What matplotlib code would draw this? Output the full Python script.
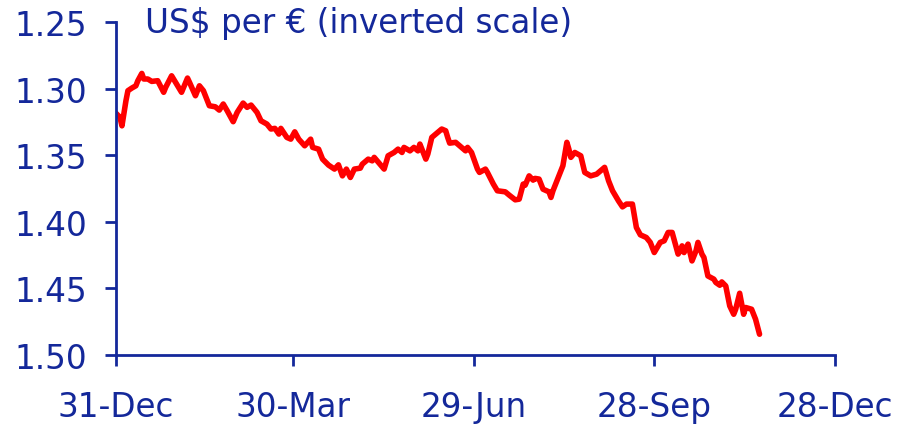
import matplotlib
matplotlib.use("Agg")
import matplotlib.pyplot as plt
import matplotlib.dates as mdates
import pandas as pd

# Data: days since 31-Dec-2006, US$ per euro
day_offsets = [0, 2, 3, 5, 6, 8, 10, 11, 13, 14, 16, 18, 21, 24, 25, 28, 30, 33, 36, 37,
               40, 42, 44, 47, 50, 52, 54, 56, 59, 61, 64, 66, 68, 71, 73, 76, 78, 80, 82, 83,
               86, 88, 90, 92, 95, 98, 99, 102, 104, 107, 110, 112, 114, 116, 118, 120, 123, 124, 127, 129,
               130, 135, 137, 140, 142, 144, 145, 148, 150, 152, 153, 156, 157, 159, 161, 164, 166, 167, 168, 171,
               173, 176, 177, 179, 182, 183, 186, 187, 190, 192, 196, 198, 201, 203, 205, 206, 208, 210, 211, 213,
               215, 218, 219, 220, 223, 225, 227, 228, 229, 231, 234, 236, 239, 242, 244, 246, 248, 250, 253, 255,
               257, 260, 262, 264, 267, 269, 271, 274, 276, 278, 280, 283, 284, 285, 286, 288, 290, 292, 293, 295,
               296, 298, 301, 302, 304, 305, 307, 309, 311, 312, 314, 316, 317, 320, 322, 324]
usd_per_eur = [1.3184, 1.3214, 1.3278, 1.3090, 1.3014, 1.2994, 1.2977, 1.2939, 1.2884, 1.2926,
               1.2926, 1.2944, 1.2939, 1.3026, 1.2989, 1.2902, 1.2951, 1.3026, 1.2919, 1.2951,
               1.3052, 1.2977, 1.3014, 1.3127, 1.3135, 1.3160, 1.3114, 1.3165, 1.3247, 1.3177,
               1.3107, 1.3139, 1.3122, 1.3177, 1.3240, 1.3265, 1.3302, 1.3297, 1.3340, 1.3297,
               1.3365, 1.3378, 1.3323, 1.3378, 1.3428, 1.3378, 1.3440, 1.3453, 1.3528, 1.3573,
               1.3603, 1.3571, 1.3654, 1.3603, 1.3666, 1.3603, 1.3596, 1.3566, 1.3528, 1.3541,
               1.3515, 1.3603, 1.3503, 1.3478, 1.3453, 1.3478, 1.3440, 1.3466, 1.3440, 1.3466,
               1.3415, 1.3528, 1.3490, 1.3365, 1.3340, 1.3302, 1.3315, 1.3365, 1.3408, 1.3402,
               1.3428, 1.3466, 1.3440, 1.3478, 1.3603, 1.3628, 1.3603, 1.3628, 1.3716, 1.3766,
               1.3774, 1.3799, 1.3834, 1.3829, 1.3716, 1.3724, 1.3654, 1.3686, 1.3673, 1.3678,
               1.3754, 1.3774, 1.3816, 1.3766, 1.3654, 1.3578, 1.3402, 1.3453, 1.3515, 1.3478,
               1.3503, 1.3628, 1.3654, 1.3641, 1.3616, 1.3590, 1.3691, 1.3766, 1.3842, 1.3887,
               1.3866, 1.3866, 1.4042, 1.4097, 1.4117, 1.4154, 1.4230, 1.4154, 1.4142, 1.4079,
               1.4079, 1.4242, 1.4218, 1.4180, 1.4230, 1.4167, 1.4293, 1.4218, 1.4154, 1.4242,
               1.4267, 1.4406, 1.4430, 1.4455, 1.4476, 1.4451, 1.4481, 1.4631, 1.4694, 1.4656,
               1.4536, 1.4694, 1.4643, 1.4656, 1.4731, 1.4844]

start_date = "2006-12-31"
tick_dates = ["2006-12-31", "2007-03-30", "2007-06-29", "2007-09-28", "2007-12-28"]
tick_labels = ["31-Dec", "30-Mar", "29-Jun", "28-Sep", "28-Dec"]
y_ticks = [1.25, 1.30, 1.35, 1.40, 1.45, 1.50]
y_tick_labels = ["1.25", "1.30", "1.35", "1.40", "1.45", "1.50"]
title = "US$ per \u20ac (inverted scale)"

dates = pd.Timestamp(start_date) + pd.to_timedelta(day_offsets, unit="D")
tdates = pd.to_datetime(tick_dates)

BLUE = "#14289a"
RED = "#ff0000"
FS = 23.5

plt.rcParams["font.family"] = ["DejaVu Sans"]

fig = plt.figure(figsize=(9.01, 4.27), dpi=100)
ax = fig.add_axes([116 / 901, 1 - 356 / 427, (835 - 116) / 901, (356 - 23.3) / 427])

ax.plot(dates, usd_per_eur, color=RED, lw=4.0, solid_joinstyle="round", solid_capstyle="round")

ax.set_xlim(tdates[0], tdates[-1])
ax.set_ylim(1.50, 1.25)
ax.set_yticks(y_ticks)
ax.set_yticklabels(y_tick_labels)
ax.set_xticks(tdates)
ax.set_xticklabels(tick_labels)

for s in ["top", "right"]:
    ax.spines[s].set_visible(False)
for s in ["left", "bottom"]:
    ax.spines[s].set_color(BLUE)
    ax.spines[s].set_linewidth(2)

ax.tick_params(axis="y", direction="out", length=8, width=2, color=BLUE,
               labelcolor=BLUE, labelsize=FS, pad=13)
ax.tick_params(axis="x", direction="out", length=8, width=2, color=BLUE,
               labelcolor=BLUE, labelsize=FS, pad=17)

fig.text(145 / 901, 1 - 24 / 427, title, color=BLUE, fontsize=FS, ha="left", va="center")

fig.savefig("out.png", dpi=100)
